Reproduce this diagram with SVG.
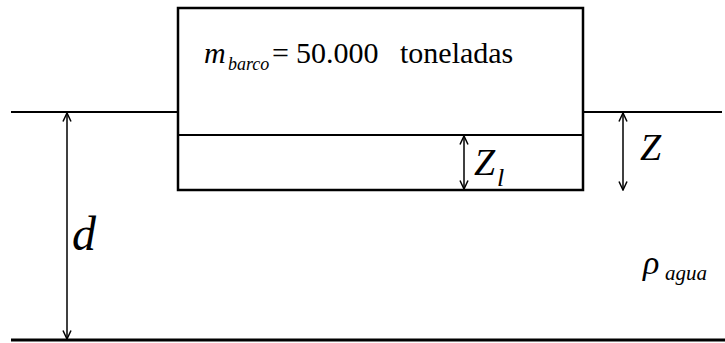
<svg xmlns="http://www.w3.org/2000/svg" width="725" height="343" viewBox="0 0 725 343" font-family="Liberation Serif">
<defs>
<marker id="ah" viewBox="0 0 10 10" refX="9.5" refY="5" markerWidth="10" markerHeight="10" markerUnits="userSpaceOnUse" orient="auto-start-reverse">
<path d="M1,1 L9.5,5 L1,9" fill="none" stroke="#000" stroke-width="1.5"/>
</marker>
</defs>
<rect width="725" height="343" fill="#fff"/>
<g id="water" stroke="#000" fill="none" stroke-width="2">
<line x1="11" y1="112" x2="178" y2="112"/>
<line x1="583" y1="112" x2="722" y2="112"/>
<line x1="11" y1="340" x2="725" y2="340" stroke-width="3"/>
</g>
<g id="boat">
<rect x="178" y="8" width="405" height="182" stroke="#000" fill="none" stroke-width="2.5"/>
<line x1="178" y1="135" x2="583" y2="135" stroke="#000" stroke-width="2"/>
</g>
<g id="connectors" stroke="#000" fill="none" stroke-width="1.5">
<line x1="67" y1="113" x2="67" y2="339" marker-start="url(#ah)" marker-end="url(#ah)"/>
<line x1="623" y1="113" x2="623" y2="190" marker-start="url(#ah)" marker-end="url(#ah)"/>
<line x1="464" y1="136" x2="464" y2="189" marker-start="url(#ah)" marker-end="url(#ah)"/>
</g>
<text y="63" font-size="30" font-family="Times New Roman"><tspan font-style="italic" x="204">m</tspan><tspan font-style="italic" font-size="18" x="228" dy="7">barco</tspan><tspan dy="-7" x="272">=</tspan><tspan x="296">50.000</tspan><tspan x="400">toneladas</tspan></text>
<text x="72" y="250" font-size="48" font-family="Times New Roman" font-style="italic">d</text>
<text x="640" y="160" font-size="38" font-family="Times New Roman" font-style="italic">Z</text>
<text x="474" y="175" font-size="38" font-family="Times New Roman" font-style="italic">Z<tspan font-size="26" x="497" dy="11">l</tspan></text>
<text x="643" y="274" font-size="34" font-family="Times New Roman" font-style="italic">ρ<tspan font-size="21" x="665" dy="6">agua</tspan></text>
</svg>
